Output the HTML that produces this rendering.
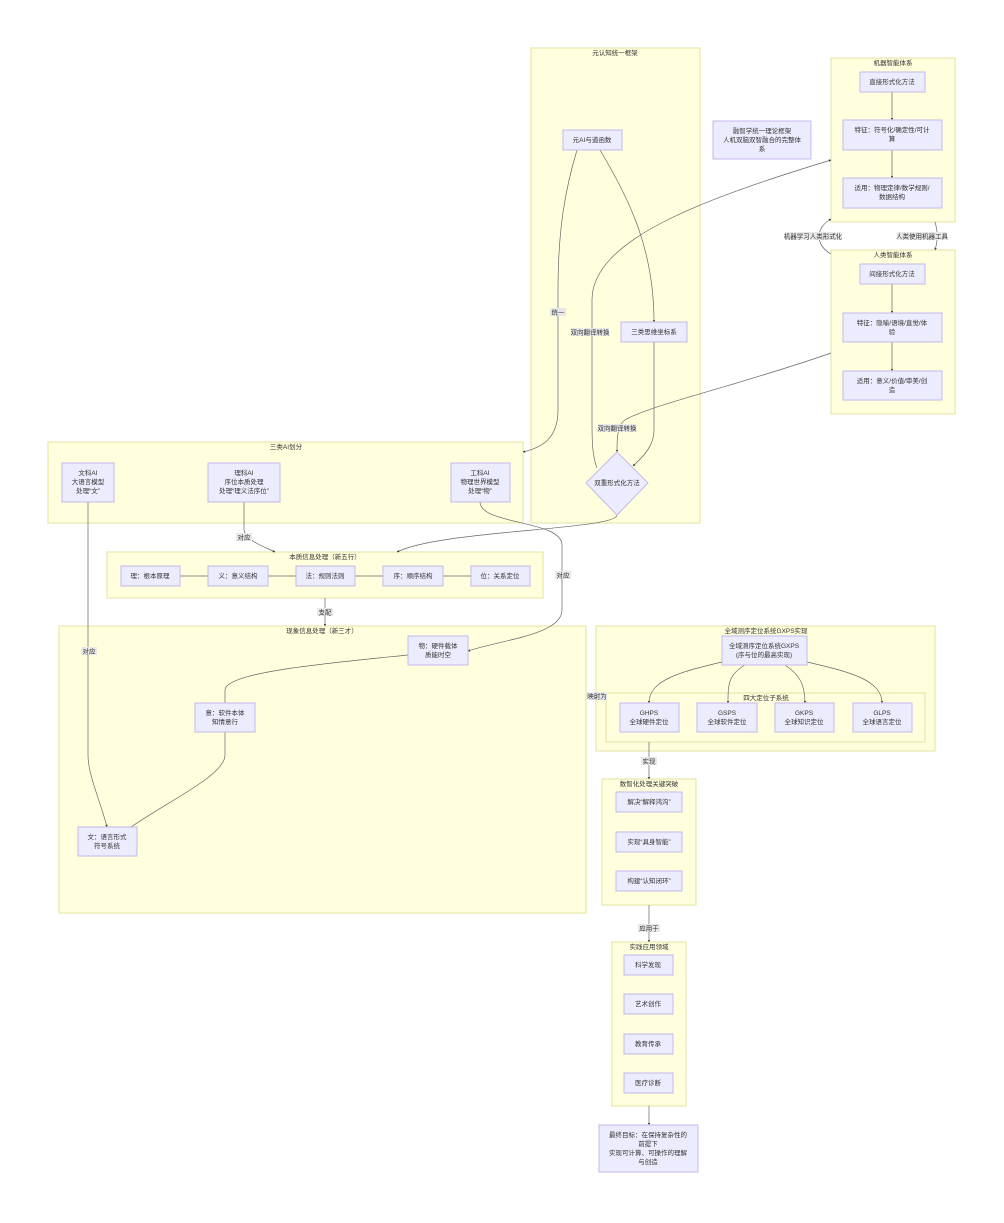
<!DOCTYPE html>
<html><head><meta charset="utf-8"><style>
html,body{margin:0;padding:0;background:#fff;}
svg{display:block;}
text{font-family:"Liberation Sans","Noto Sans CJK SC",sans-serif;font-size:6.5px;fill:#333;text-anchor:middle;}
.c{fill:#ffffde;stroke:#e3e3a0;stroke-width:1;}
.n{fill:#ececff;stroke:#c4b7ee;stroke-width:1;}
.e{fill:none;stroke:#666;stroke-width:0.7;}
.lb{fill:#e8e8e8;}
</style></head><body>
<svg width="1004" height="1223" viewBox="0 0 1004 1223" xmlns="http://www.w3.org/2000/svg">
<defs><marker id="a" viewBox="0 0 10 10" refX="9" refY="5" markerWidth="3.5" markerHeight="3.5" orient="auto"><path d="M0,0L10,5L0,10z" fill="#333"/></marker></defs>

<rect class="c" x="531" y="48" width="169" height="475"/><text x="615" y="55">元认知统一框架</text>
<rect class="c" x="831" y="58" width="124" height="164"/><text x="893" y="65">机器智能体系</text>
<rect class="c" x="831" y="250" width="124" height="164"/><text x="893" y="257">人类智能体系</text>
<rect class="c" x="48" y="442" width="475" height="81"/><text x="286" y="449">三类AI划分</text>
<rect class="c" x="107" y="552" width="436" height="46"/><text x="325" y="559">本质信息处理（新五行）</text>
<rect class="c" x="59" y="626" width="527" height="287"/><text x="322" y="633">现象信息处理（新三才）</text>
<rect class="c" x="596" y="626" width="339" height="125"/><text x="766" y="633">全域测序定位系统GXPS实现</text>
<rect class="c" x="606" y="693" width="319" height="49"/><text x="766" y="700">四大定位子系统</text>
<rect class="c" x="602" y="779" width="94" height="126"/><text x="649" y="786">数智化处理关键突破</text>
<rect class="c" x="612" y="942" width="74" height="164"/><text x="649" y="949">实践应用领域</text>

<path class="e" d="M577,150 C565,190 558,230 558,290 L558,410 C558,440 540,448 523,452" marker-end="url(#a)"/>
<path class="e" d="M600,150 C630,200 654,250 654,322" marker-end="url(#a)"/>
<path class="e" d="M654,342 L654,430 C654,445 645,455 633,466" marker-end="url(#a)"/>
<path class="e" d="M597,468 C592,455 592,440 592,420 L592,300 C592,240 700,200 831,160" marker-end="url(#a)"/>
<path class="e" d="M831,353 C740,385 650,405 625,420 C617,425 617,440 617,452" marker-end="url(#a)"/>
<path class="e" d="M935,222 C938,232 938,240 935,250" marker-end="url(#a)"/>
<path class="e" d="M831,254 C815,245 815,228 831,219" marker-end="url(#a)"/>
<path class="e" d="M892,92 L892,120" marker-end="url(#a)"/>
<path class="e" d="M892,150 L892,178" marker-end="url(#a)"/>
<path class="e" d="M892,284 L892,313" marker-end="url(#a)"/>
<path class="e" d="M892,342 L892,371" marker-end="url(#a)"/>
<path class="e" d="M617,515 C617,530 440,530 397,552" marker-end="url(#a)"/>
<path class="e" d="M244,502 L244,530 C246,540 260,545 275,552" marker-end="url(#a)"/>
<path class="e" d="M480,502 C480,525 562,520 562,545 L562,610 C562,635 500,640 468,651" marker-end="url(#a)"/>
<path class="e" d="M88,502 L88,755 C88,775 100,800 107,827" marker-end="url(#a)"/>
<path class="e" d="M325,598 L325,626" marker-end="url(#a)"/>
<path class="e" d="M408,655 C330,663 225,672 225,690 L225,703"/>
<path class="e" d="M225,732 L225,755 C225,775 170,800 131,827"/>
<path class="e" d="M180,576 L208,576 M268,576 L296,576 M355,576 L383,576 M443,576 L471,576"/>
<path class="e" d="M722,662 C680,672 649,680 649,703" marker-end="url(#a)"/>
<path class="e" d="M745,665 C728,675 728,685 728,703" marker-end="url(#a)"/>
<path class="e" d="M785,665 C800,675 805,685 805,703" marker-end="url(#a)"/>
<path class="e" d="M807,662 C850,672 882,680 882,703" marker-end="url(#a)"/>
<path class="e" d="M649,742 L649,779" marker-end="url(#a)"/>
<path class="e" d="M649,905 L649,942" marker-end="url(#a)"/>
<path class="e" d="M649,1106 L649,1125" marker-end="url(#a)"/>

<rect class="lb" x="550" y="308" width="16" height="8"/><text x="558" y="314.5">统一</text>
<rect class="lb" x="571" y="328" width="38" height="8"/><text x="590" y="334.5">双向翻译转换</text>
<rect class="lb" x="598" y="424" width="38" height="8"/><text x="617" y="430.5">双向翻译转换</text>
<rect class="lb" x="897" y="232" width="50" height="8"/><text x="922" y="238.5">人类使用机器工具</text>
<rect class="lb" x="785" y="232" width="56" height="8"/><text x="813" y="238.5">机器学习人类形式化</text>
<rect class="lb" x="236" y="533" width="16" height="8"/><text x="244" y="539.5">对应</text>
<rect class="lb" x="555" y="571" width="16" height="8"/><text x="563" y="577.5">对应</text>
<rect class="lb" x="81" y="647" width="16" height="8"/><text x="89" y="653.5">对应</text>
<rect class="lb" x="317" y="608" width="16" height="8"/><text x="325" y="614.5">支配</text>
<rect class="lb" x="587" y="692" width="20" height="8"/><text x="597" y="698.5">映射为</text>
<rect class="lb" x="641" y="757" width="16" height="8"/><text x="649" y="763.5">实现</text>
<rect class="lb" x="638" y="924" width="22" height="8"/><text x="649" y="930.5">应用于</text>

<rect class="n" x="563" y="130" width="59" height="20"/><text x="592" y="142">元AI与道函数</text>
<rect class="n" x="621" y="322" width="66" height="20"/><text x="654" y="334">三类思维坐标系</text>
<polygon class="n" points="617,452 648,483 617,515 586,483"/><text x="617" y="485">双重形式化方法</text>
<rect class="n" x="713" y="121" width="98" height="38"/><text x="762" y="133">融智学统一理论框架</text><text x="762" y="142">人机双脑双智融合的完整体</text><text x="762" y="151">系</text>
<rect class="n" x="860" y="72" width="65" height="20"/><text x="892" y="84">直接形式化方法</text>
<rect class="n" x="843" y="120" width="99" height="30"/><text x="892" y="132">特征：符号化/确定性/可计</text><text x="892" y="141">算</text>
<rect class="n" x="843" y="178" width="99" height="30"/><text x="892" y="190">适用：物理定律/数学规则/</text><text x="892" y="199">数据结构</text>
<rect class="n" x="860" y="264" width="65" height="20"/><text x="892" y="276">间接形式化方法</text>
<rect class="n" x="843" y="313" width="99" height="29"/><text x="892" y="325">特征：隐喻/语境/直觉/体</text><text x="892" y="334">验</text>
<rect class="n" x="843" y="371" width="99" height="29"/><text x="892" y="383">适用：意义/价值/审美/创</text><text x="892" y="392">造</text>
<rect class="n" x="62" y="463" width="52" height="39"/><text x="88" y="475">文科AI</text><text x="88" y="484">大语言模型</text><text x="88" y="493">处理“文”</text>
<rect class="n" x="208" y="463" width="72" height="39"/><text x="244" y="475">理科AI</text><text x="244" y="484">序位本质处理</text><text x="244" y="493">处理“理义法序位”</text>
<rect class="n" x="451" y="463" width="59" height="39"/><text x="480" y="475">工科AI</text><text x="480" y="484">物理世界模型</text><text x="480" y="493">处理“物”</text>
<rect class="n" x="121" y="566" width="59" height="20"/><text x="150" y="578">理：根本原理</text>
<rect class="n" x="208" y="566" width="60" height="20"/><text x="238" y="578">义：意义结构</text>
<rect class="n" x="296" y="566" width="59" height="20"/><text x="325" y="578">法：规则法则</text>
<rect class="n" x="383" y="566" width="60" height="20"/><text x="413" y="578">序：顺序结构</text>
<rect class="n" x="471" y="566" width="59" height="20"/><text x="500" y="578">位：关系定位</text>
<rect class="n" x="408" y="636" width="60" height="29"/><text x="438" y="648">物：硬件载体</text><text x="438" y="657">质能时空</text>
<rect class="n" x="195" y="703" width="60" height="29"/><text x="225" y="715">意：软件本体</text><text x="225" y="724">知情意行</text>
<rect class="n" x="78" y="827" width="59" height="29"/><text x="107" y="839">文：语言形式</text><text x="107" y="848">符号系统</text>
<rect class="n" x="722" y="636" width="85" height="29"/><text x="764" y="648">全域测序定位系统GXPS</text><text x="764" y="657">(序与位的最高实现)</text>
<rect class="n" x="620" y="703" width="59" height="29"/><text x="649" y="715">GHPS</text><text x="649" y="724">全球硬件定位</text>
<rect class="n" x="697" y="703" width="60" height="29"/><text x="727" y="715">GSPS</text><text x="727" y="724">全球软件定位</text>
<rect class="n" x="775" y="703" width="59" height="29"/><text x="804" y="715">GKPS</text><text x="804" y="724">全球知识定位</text>
<rect class="n" x="853" y="703" width="59" height="29"/><text x="882" y="715">GLPS</text><text x="882" y="724">全球语言定位</text>
<rect class="n" x="616" y="792" width="66" height="20"/><text x="649" y="804">解决“解释鸿沟”</text>
<rect class="n" x="616" y="832" width="66" height="20"/><text x="649" y="844">实现“具身智能”</text>
<rect class="n" x="616" y="871" width="66" height="20"/><text x="649" y="883">构建“认知闭环”</text>
<rect class="n" x="624" y="955" width="49" height="20"/><text x="648" y="967">科学发现</text>
<rect class="n" x="624" y="994" width="49" height="20"/><text x="648" y="1006">艺术创作</text>
<rect class="n" x="624" y="1034" width="49" height="20"/><text x="648" y="1046">教育传承</text>
<rect class="n" x="624" y="1073" width="49" height="20"/><text x="648" y="1085">医疗诊断</text>
<rect class="n" x="599" y="1125" width="99" height="47"/><text x="648" y="1137">最终目标：在保持复杂性的</text><text x="648" y="1146">前提下</text><text x="648" y="1155">实现可计算、可操作的理解</text><text x="648" y="1164">与创造</text>
</svg>
</body></html>
